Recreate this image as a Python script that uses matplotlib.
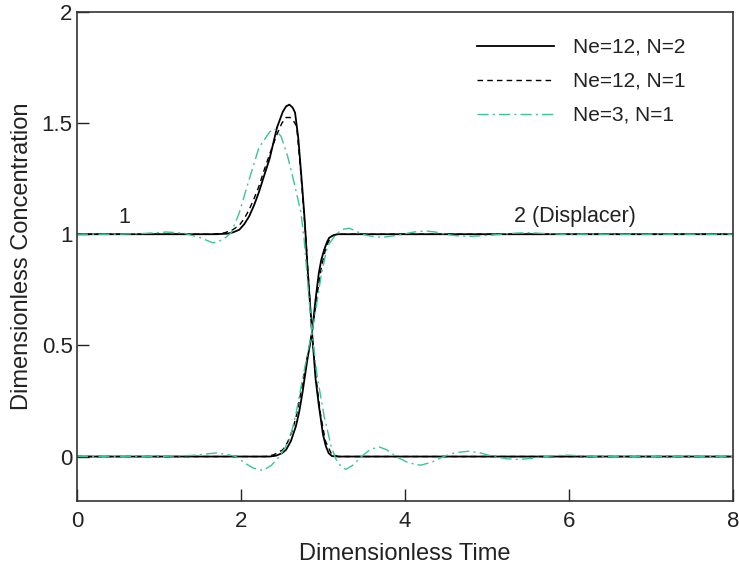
import matplotlib
matplotlib.use("Agg")
import matplotlib.pyplot as plt

plt.rcParams['font.family'] = ['Liberation Sans', 'DejaVu Sans']

# ---- data ----
# Ne=12, N=2 (solid)
a1_x = [0, 1.7, 1.84, 1.9, 1.98, 2.04, 2.10, 2.16, 2.22, 2.28, 2.35, 2.44, 2.51, 2.55, 2.59, 2.63, 2.66,
        2.70, 2.75, 2.78, 2.81, 2.865, 2.91, 2.95, 2.975, 3.0, 3.036, 3.07, 3.11, 3.2, 8]
a1_y = [1, 1, 1.003, 1.008, 1.02, 1.045, 1.08, 1.13, 1.19, 1.26, 1.34, 1.48, 1.55, 1.575, 1.583, 1.57, 1.547,
        1.43, 1.20, 1.05, 0.86, 0.57, 0.35, 0.23, 0.166, 0.10, 0.046, 0.015, 0.002, 0, 0]
a2_x = [0, 2.35, 2.43, 2.50, 2.55, 2.61, 2.67, 2.71, 2.75, 2.81, 2.866, 2.91, 2.95, 2.98, 3.015, 3.05,
        3.076, 3.13, 3.18, 3.26, 8]
a2_y = [0, 0, 0.004, 0.015, 0.03, 0.07, 0.136, 0.2, 0.286, 0.436, 0.556, 0.706, 0.826, 0.885, 0.93, 0.965,
        0.984, 0.996, 1.0, 1.0, 1.0]

# Ne=12, N=1 (dashed)
b1_x = [0, 1.65, 1.8, 1.9, 1.98, 2.04, 2.10, 2.16, 2.22, 2.28, 2.35, 2.44, 2.50, 2.55, 2.60, 2.64, 2.68,
        2.73, 2.79, 2.84, 2.866, 2.91, 2.97, 3.03, 3.10, 3.18, 8]
b1_y = [1, 1, 1.006, 1.02, 1.04, 1.07, 1.11, 1.16, 1.216, 1.285, 1.36, 1.45, 1.50, 1.525, 1.525, 1.51, 1.486,
        1.276, 0.99, 0.70, 0.556, 0.37, 0.19, 0.07, 0.015, 0, 0]
b2_x = [0, 2.3, 2.4, 2.51, 2.57, 2.63, 2.68, 2.73, 2.80, 2.866, 2.93, 2.98, 3.04, 3.10, 3.17, 8]
b2_y = [0, 0, 0.008, 0.03, 0.065, 0.12, 0.19, 0.286, 0.43, 0.556, 0.73, 0.85, 0.946, 0.99, 1.0, 1.0]

# Ne=3, N=1 (dash-dot)
c1_x = [0, 0.5, 0.8, 1.09, 1.3, 1.5, 1.66, 1.78, 1.88, 1.98, 2.10, 2.22, 2.35, 2.41, 2.49, 2.57, 2.65,
        2.73, 2.77, 2.81, 2.866, 2.93, 3.015, 3.10, 3.16, 3.22, 3.28, 3.36, 3.47, 3.57, 3.68, 3.78, 3.89,
        4.04, 4.19, 4.33, 4.47, 4.62, 4.78, 4.93, 5.08, 5.24, 5.39, 5.55, 5.71, 5.85, 6.0, 6.2, 6.4, 8]
c1_y = [1, 1.0, 1.003, 1.01, 1.005, 0.985, 0.961, 0.975, 1.006, 1.096, 1.246, 1.39, 1.46, 1.474, 1.44, 1.35, 1.23,
        1.10, 0.98, 0.80, 0.556, 0.361, 0.181, 0.046, -0.013, -0.045, -0.058, -0.04, 0.0, 0.03, 0.044, 0.03, 0.0,
        -0.028, -0.039, -0.025, 0.0, 0.018, 0.024, 0.015, 0.0, -0.01, -0.013, -0.008, 0.0, 0.005, 0.006, 0.002, 0, 0]
c2_x = [0, 1.0, 1.4, 1.70, 1.82, 1.94, 2.05, 2.15, 2.27, 2.37, 2.47, 2.53, 2.59, 2.63, 2.67, 2.75, 2.83,
        2.866, 2.93, 2.98, 3.055, 3.16, 3.24, 3.32, 3.40, 3.48, 3.60, 3.72, 3.85, 3.97, 4.11, 4.25, 4.37,
        4.49, 4.63, 4.78, 4.98, 5.18, 5.35, 5.51, 5.7, 5.9, 8]
c2_y = [0, 0, 0.005, 0.016, 0.01, 0.0, -0.03, -0.052, -0.062, -0.04, 0.0, 0.035, 0.076, 0.13, 0.19, 0.346, 0.496,
        0.556, 0.70, 0.82, 0.946, 1.0, 1.022, 1.027, 1.015, 1.0, 0.99, 0.986, 0.992, 1.0, 1.01, 1.015, 1.01,
        1.0, 0.993, 0.99, 0.994, 1.0, 1.005, 1.007, 1.003, 1.0, 1.0]

labels = ["Ne=12, N=2", "Ne=12, N=1", "Ne=3, N=1"]
x_ticks = [0, 2, 4, 6, 8]
y_ticks = [0, 0.5, 1, 1.5, 2]
y_tick_labels = ["0", "0.5", "1", "1.5", "2"]

green = "#3cc39c"

fig = plt.figure(figsize=(7.39, 5.67), dpi=100)
ax = fig.add_axes([0.104, 0.1164, 0.888, 0.8626])

l1, = ax.plot(a1_x, a1_y, color="black", lw=1.3, ls="-", label=labels[0])
ax.plot(a2_x, a2_y, color="black", lw=1.3, ls="-")
l2, = ax.plot(b1_x, b1_y, color="black", lw=1.0, ls=(0, (4, 3)), label=labels[1])
ax.plot(b2_x, b2_y, color="black", lw=1.0, ls=(0, (4, 3)))
l3, = ax.plot(c1_x, c1_y, color=green, lw=1.0, ls=(0, (8, 3, 1.5, 3)), label=labels[2])
ax.plot(c2_x, c2_y, color=green, lw=1.0, ls=(0, (8, 3, 1.5, 3)))

ax.set_xlim(0, 8)
ax.set_ylim(-0.2, 2)
ax.set_xticks(x_ticks)
ax.set_yticks(y_ticks)
ax.set_yticklabels(y_tick_labels)
ax.tick_params(direction="in", length=8.5, width=1.0, labelsize=16, colors="#222222")
ax.tick_params(axis="x", pad=7)
ax.tick_params(axis="y", pad=3)
for s in ax.spines.values():
    s.set_color("#333333")
    s.set_linewidth(1.2)

ax.set_xlabel("Dimensionless Time", fontsize=17, color="#222222", labelpad=8)
ax.set_ylabel("Dimensionless Concentration", fontsize=17, color="#222222", labelpad=6)

ax.text(0.58, 1.075, "1", fontsize=15.5, ha="center", va="center", color="#222222")
ax.text(6.07, 1.08, "2 (Displacer)", fontsize=15.5, ha="center", va="center", color="#222222")

leg = ax.legend(handles=[l1, l2, l3], loc="upper left", frameon=False, fontsize=15,
                handlelength=3.7, handletextpad=0.95, labelspacing=0.72,
                bbox_to_anchor=(0.609, 0.947), borderaxespad=0.0, borderpad=0.0)
for t in leg.get_texts():
    t.set_color("#222222")

fig.savefig("out.png", dpi=100)
